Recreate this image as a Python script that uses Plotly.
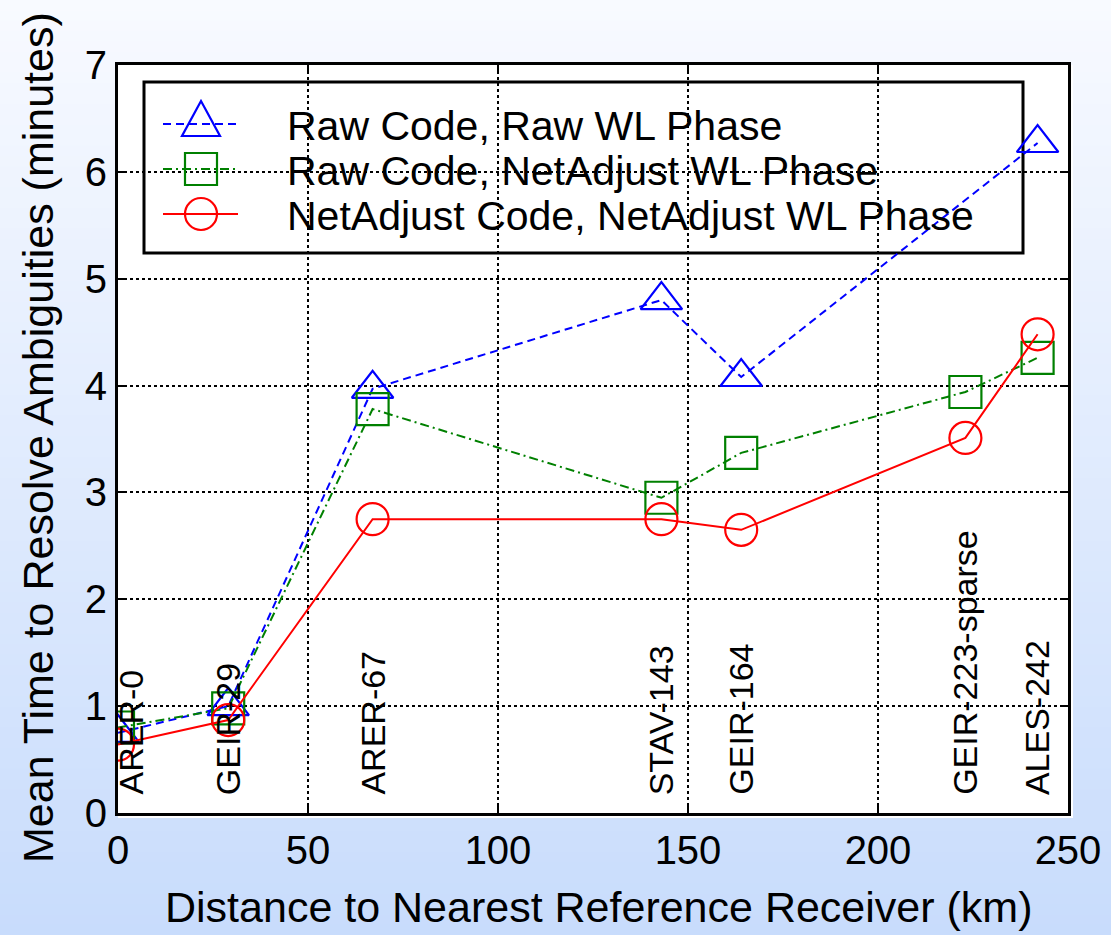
import plotly.graph_objects as go

# ---- data ----
raw_raw_km = [0, 29, 67, 143, 164, 242]
raw_raw_min = [0.75, 1.00, 3.97, 4.80, 4.08, 6.27]

raw_net_km = [0, 29, 67, 143, 164, 223, 242]
raw_net_min = [0.80, 0.98, 3.78, 2.95, 3.37, 3.94, 4.26]

net_net_km = [0, 29, 67, 143, 164, 223, 242]
net_net_min = [0.64, 0.87, 2.75, 2.75, 2.65, 3.51, 4.48]

station_names = ["ARER-0", "GEIR-29", "ARER-67", "STAV-143", "GEIR-164", "GEIR-223-sparse", "ALES-242"]
station_km = [0, 29, 67, 143, 164, 223, 242]

x_ticks = [0, 50, 100, 150, 200, 250]
y_ticks = [0, 1, 2, 3, 4, 5, 6, 7]

x_title = "Distance to Nearest Reference Receiver (km)"
y_title = "Mean Time to Resolve Ambiguities (minutes)"

series_names = ["Raw Code, Raw WL Phase",
                "Raw Code, NetAdjust WL Phase",
                "NetAdjust Code, NetAdjust WL Phase"]
series_colors = ["#0000ff", "#008000", "#ff0000"]
series_dash = ["8px,5px", "9px,4px,2px,4px", "solid"]
series_symbols = ["triangle-up-open", "square-open", "circle-open"]

FONT = "Liberation Sans, Arial, Helvetica, sans-serif"
W, H = 1111, 935
ML, MR, MT, MB = 118, 43, 65, 122
PW, PH = W - ML - MR, H - MT - MB


def px(xpix):
    return (xpix - ML) / PW


def py(ypix):
    return (MT + PH - ypix) / PH


fig = go.Figure()
series = [(raw_raw_km, raw_raw_min, 36), (raw_net_km, raw_net_min, 32), (net_net_km, net_net_min, 32)]
for i, (xs, ys, sz) in enumerate(series):
    fig.add_trace(go.Scatter(
        x=xs, y=ys, mode="lines+markers", name=series_names[i], showlegend=False,
        line=dict(color=series_colors[i], width=2, dash=series_dash[i]),
        marker=dict(symbol=series_symbols[i], size=sz, color=series_colors[i],
                    line=dict(width=2.2, color=series_colors[i]))))

shapes = []
# background gradient (figure paper), vertical
N = 90
top = (248, 250, 255)
bot = (200, 220, 252)
for i in range(N):
    t = (i + 0.5) / N
    c = tuple(round(top[k] + (bot[k] - top[k]) * t) for k in range(3))
    shapes.append(dict(type="rect", xref="paper", yref="paper", layer="below",
                       x0=px(0), x1=px(W), y0=py(min(H, H * (i + 1) / N + 1)), y1=py(H * i / N),
                       line=dict(width=0), fillcolor="rgb(%d,%d,%d)" % c))
# white plot panel (slightly larger than the axes box)
shapes.append(dict(type="rect", xref="paper", yref="paper", layer="below",
                   x0=0, x1=px(ML + PW + 5), y0=py(MT + PH + 5), y1=1,
                   line=dict(width=0), fillcolor="white"))

# ---- legend (drawn as layout decoration) ----
shapes.append(dict(type="rect", xref="paper", yref="paper", layer="between",
                   x0=px(144), x1=px(1023), y0=py(253), y1=py(82),
                   line=dict(width=3, color="black"), fillcolor="white"))
rows = [124, 169, 214]
annotations = []
for i, ry in enumerate(rows):
    col = series_colors[i]
    shapes.append(dict(type="line", xref="paper", yref="paper", layer="above",
                       x0=px(163), x1=px(238), y0=py(ry), y1=py(ry),
                       line=dict(color=col, width=2, dash=series_dash[i])))
    annotations.append(dict(x=px(285), y=py(ry + 2), xref="paper", yref="paper",
                            text=series_names[i], showarrow=False,
                            xanchor="left", yanchor="middle",
                            font=dict(family=FONT, size=41, color="black")))
cx = 201
# triangle
shapes.append(dict(type="path", xref="paper", yref="paper", layer="above",
                   path="M %f,%f L %f,%f L %f,%f Z" % (px(cx - 19), py(rows[0] + 12), px(cx + 19),
                                                    py(rows[0] + 12), px(cx), py(rows[0] - 23)),
                   line=dict(color=series_colors[0], width=2.2), fillcolor="rgba(0,0,0,0)"))
# square
shapes.append(dict(type="rect", xref="paper", yref="paper", layer="above",
                   x0=px(cx - 16), x1=px(cx + 16), y0=py(rows[1] + 16), y1=py(rows[1] - 16),
                   line=dict(color=series_colors[1], width=2.2), fillcolor="rgba(0,0,0,0)"))
# circle
shapes.append(dict(type="circle", xref="paper", yref="paper", layer="above",
                   x0=px(cx - 16), x1=px(cx + 16), y0=py(rows[2] + 16), y1=py(rows[2] - 16),
                   line=dict(color=series_colors[2], width=2.2), fillcolor="rgba(0,0,0,0)"))

# station labels
for name, km in zip(station_names, station_km):
    annotations.append(dict(
        x=km, y=0.15, xref="x", yref="y", text=name, textangle=-90,
        showarrow=False, xanchor="center", yanchor="bottom",
        xshift=13 if km < 5 else 0,
        font=dict(family=FONT, size=34, color="black")))

# axis titles
annotations.append(dict(x=px(598), y=py(907), xref="paper", yref="paper", text=x_title,
                        showarrow=False, xanchor="center", yanchor="middle",
                        font=dict(family=FONT, size=43, color="black")))
annotations.append(dict(x=px(38), y=py(438), xref="paper", yref="paper", text=y_title,
                        showarrow=False, xanchor="center", yanchor="middle", textangle=-90,
                        font=dict(family=FONT, size=43, color="black")))

axis_common = dict(
    showline=True, linewidth=3, linecolor="black", mirror="ticks",
    ticks="inside", ticklen=8, tickwidth=2, tickcolor="black",
    showgrid=True, gridcolor="black", gridwidth=2, griddash="dot",
    zeroline=False, tickfont=dict(family=FONT, size=40, color="black"),
    automargin=False,
)

fig.update_layout(
    width=W, height=H,
    margin=dict(l=ML, r=MR, t=MT, b=MB, autoexpand=False),
    paper_bgcolor="white", plot_bgcolor="white",
    font=dict(family=FONT, color="black"),
    shapes=shapes, annotations=annotations,
    xaxis=dict(range=[0, 250], tickvals=x_ticks, **axis_common),
    yaxis=dict(range=[0, 7], tickvals=y_ticks, **axis_common),
    showlegend=False,
)

fig.write_html("out.html")
